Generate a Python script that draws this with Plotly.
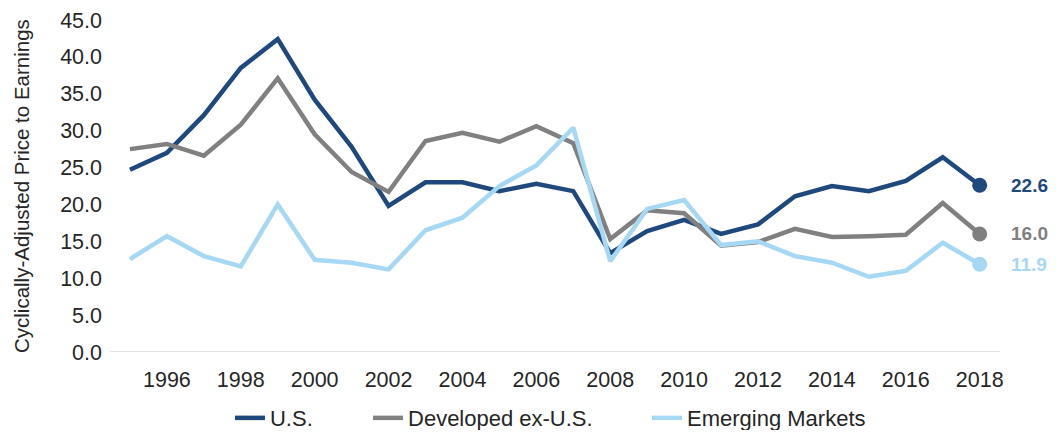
import plotly.graph_objects as go

years = list(range(1995, 2019))
us = [24.7, 27.0, 32.1, 38.5, 42.4, 34.2, 27.8, 19.8, 23.0, 23.0, 21.8, 22.8, 21.8, 13.4,
      16.4, 17.9, 16.0, 17.3, 21.1, 22.5, 21.8, 23.2, 26.4, 22.6]
dev = [27.5, 28.2, 26.6, 30.8, 37.1, 29.5, 24.4, 21.7, 28.6, 29.7, 28.5, 30.6, 28.3, 15.3,
       19.2, 18.8, 14.4, 14.9, 16.7, 15.6, 15.7, 15.9, 20.2, 16.0]
em = [12.6, 15.7, 13.0, 11.6, 20.0, 12.5, 12.1, 11.2, 16.5, 18.2, 22.5, 25.3, 30.4, 12.3,
      19.4, 20.6, 14.5, 15.0, 13.0, 12.1, 10.2, 11.0, 14.8, 11.9]
xtick_years = list(range(1996, 2019, 2))

series = [
    ("U.S.", us, "#1F497D", "legend"),
    ("Developed ex-U.S.", dev, "#808080", "legend2"),
    ("Emerging Markets", em, "#A6D8F3", "legend3"),
]

FONT = "Liberation Sans, Arial, sans-serif"
fig = go.Figure()
for name, vals, color, lg in series:
    fig.add_trace(go.Scatter(x=years, y=vals, mode="lines", name=name, legend=lg,
                             line=dict(color=color, width=4.5)))
for name, vals, color, lg in series:
    fig.add_trace(go.Scatter(x=[years[-1]], y=[vals[-1]], mode="markers", showlegend=False,
                             marker=dict(color=color, size=15), cliponaxis=False))
    fig.add_annotation(x=years[-1], y=vals[-1], text=f"<b>{vals[-1]:.1f}</b>", showarrow=False,
                       xanchor="left", xshift=29, font=dict(color=color, size=19, family=FONT))

fig.add_annotation(xref="paper", yref="paper", x=0, y=0.5, xshift=-89, textangle=-90,
                   text="Cyclically-Adjusted Price to Earnings", showarrow=False,
                   xanchor="center", yanchor="middle",
                   font=dict(size=20.5, family=FONT, color="#262626"))

leg_common = dict(orientation="h", xanchor="left", y=-0.199, yanchor="middle",
                  font=dict(size=22, family=FONT, color="#262626"), bgcolor="rgba(0,0,0,0)")

fig.update_layout(
    width=1040, height=422,
    margin=dict(l=102, r=48, t=12, b=78, autoexpand=False),
    paper_bgcolor="white", plot_bgcolor="white",
    font=dict(family=FONT, size=16, color="#262626"),
    legend=dict(x=0.1348, **leg_common),
    legend2=dict(x=0.2899, **leg_common),
    legend3=dict(x=0.6034, **leg_common),
    xaxis=dict(range=[1994.46, 2018.55], tickmode="array", tickvals=xtick_years,
               showgrid=False, zeroline=False, showline=False, ticks="",
               tickfont=dict(size=21.5, family=FONT), ticklabelstandoff=12),
    yaxis=dict(range=[0, 45], dtick=5, tickformat=".1f", showgrid=False, zeroline=False,
               showline=False, ticks="", tickfont=dict(size=21.5, family=FONT),
               ticklabelstandoff=7),
    shapes=[dict(type="line", xref="paper", yref="y", x0=0, x1=1, y0=0, y1=0,
                 line=dict(color="#D9D9D9", width=1.5))],
)
fig.write_html("out.html")
